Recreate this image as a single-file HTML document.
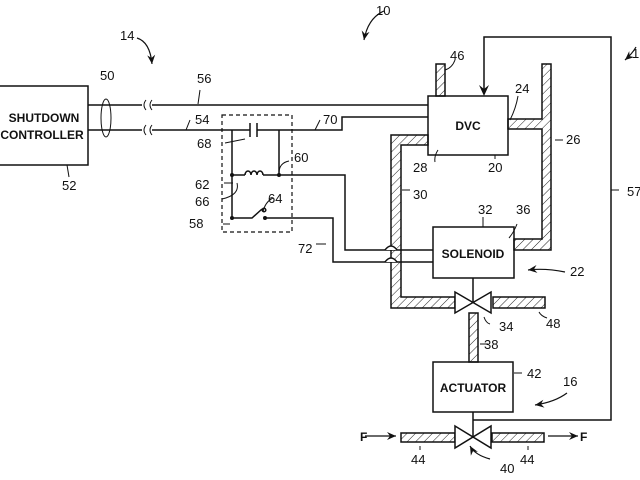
<!DOCTYPE html>
<html><head><style>body{margin:0;background:#fff}svg{display:block}text{font-family:"Liberation Sans",sans-serif;font-size:13px;fill:#111}.b{font-weight:bold;font-size:12px}</style></head><body>
<svg width="640" height="480" viewBox="0 0 640 480" xmlns="http://www.w3.org/2000/svg">
<defs><pattern id="h" width="6" height="6" patternUnits="userSpaceOnUse" patternTransform="rotate(45)"><line x1="0" y1="0" x2="0" y2="6" stroke="#222" stroke-width="1"/></pattern>
<marker id="a" markerWidth="10" markerHeight="10" refX="9" refY="5" orient="auto" markerUnits="userSpaceOnUse"><path d="M0,1 L9,5 L0,9 L3,5Z" fill="#111"/></marker></defs>
<g fill="none" stroke="#111" stroke-width="1.5">
<rect x="-2" y="86" width="90" height="79" fill="#fff"/>
<line x1="88" y1="105" x2="428" y2="105"/>
<path d="M88,130 H250 M257,130 H342 V117 H428"/>
<path d="M250,123 V137 M257,123 V137"/>
<rect x="142" y="100" width="10" height="36" fill="#fff" stroke="none"/>
<path d="M146,100 q-4,5 0,10 M152,100 q-4,5 0,10 M146,125 q-4,5 0,10 M152,125 q-4,5 0,10" stroke-width="1"/>
<ellipse cx="106" cy="118" rx="5" ry="19" stroke-width="1"/>
<rect x="222" y="115" width="70" height="117" stroke-dasharray="4,3" stroke-width="1.2"/>
<path d="M232,130 V218 M279,130 V175 M232,175 H245 M263,175 H279 H345 V250 H433"/>
<path d="M245,175 a3,4 0 0 1 6,0 a3,4 0 0 1 6,0 a3,4 0 0 1 6,0"/>
<path d="M232,218 H252 L262,209 M265,218 H333 V262 H433"/>
<circle cx="264" cy="210" r="1.8" fill="#fff"/>
<rect x="428" y="96" width="80" height="59" fill="#fff"/>
<rect x="433" y="227" width="81" height="51" fill="#fff"/>
<rect x="433" y="362" width="80" height="50" fill="#fff"/>
<path d="M484,90 V37 H611 V420 H473"/>
</g>
<path d="M479,85 L484,96 L489,85 L484,89Z" fill="#111"/>
<g fill="#111"><circle cx="232" cy="175" r="2"/><circle cx="279" cy="175" r="2"/><circle cx="232" cy="218" r="2"/><circle cx="265" cy="218" r="2"/></g>
<g fill="url(#h)" stroke="#111" stroke-width="1.5">
<rect x="436" y="64" width="9" height="32"/>
<path d="M542,64 H551 V250 H514 V239 H542 V129 H508 V119 H542Z"/>
<path d="M428,135 H391 V308 H455 V297 H401 V145 H428Z"/>
<rect x="493" y="297" width="52" height="11"/>
<rect x="469" y="313" width="9" height="49"/>
<rect x="401" y="433" width="54" height="9"/>
<rect x="492" y="433" width="52" height="9"/>
</g>
<g fill="#fff" stroke="#111" stroke-width="1.5">
<path d="M455,292 L491,313 V292 L455,313Z"/>
<path d="M455,426 L491,448 V426 L455,448Z"/>
<line x1="473" y1="278" x2="473" y2="302"/><line x1="473" y1="412" x2="473" y2="437"/>
<path d="M385,250 q6,-8 12,0 M385,262 q6,-8 12,0" stroke="#111"/>
</g>
<g fill="none" stroke="#111" stroke-width="1.2">
<path d="M365,436 H396" marker-end="url(#a)"/><path d="M548,436 H578" marker-end="url(#a)"/>
<path d="M384,11 Q368,18 364,40" marker-end="url(#a)"/>
<path d="M137,38 Q150,42 152,64" marker-end="url(#a)"/>
<path d="M565,272 Q545,268 528,270" marker-end="url(#a)"/>
<path d="M567,393 Q555,402 535,405" marker-end="url(#a)"/>
<path d="M490,459 Q475,455 470,446" marker-end="url(#a)"/>
<path d="M636,47 Q632,54 625,60" marker-end="url(#a)"/>
</g>
<g stroke="#111" stroke-width="1" fill="none">
<path d="M200,90 l-2,14 M190,120 l-4,10 M67,165 l2,12 M320,120 l-5,10 M245,139 l-20,4 M233,183 l-9,0 M237,183 Q240,195 222,199 M279,173 q0,-10 10,-12 M263,212 q2,-10 10,-14 M316,244 l10,0 M230,224 l-7,0"/>
<path d="M455,60 q-3,8 -10,10 M510,120 q6,-12 8,-24 M555,140 h8 M438,150 q-4,6 -3,12 M495,155 v4 M402,190 h8 M483,217 v10 M509,238 q5,-6 8,-14 M539,312 q2,4 8,6 M484,317 q2,6 6,7 M480,344 h8 M514,373 h8 M611,190 h8 M420,446 v4 M528,446 v4"/>
</g>
<text x="100" y="80">50</text><text x="197" y="83">56</text><text x="195" y="124">54</text><text x="120" y="40">14</text><text x="376" y="15">10</text>
<text x="62" y="190">52</text><text x="323" y="124">70</text><text x="197" y="148">68</text><text x="294" y="162">60</text>
<text x="195" y="189">62</text><text x="195" y="206">66</text><text x="268" y="203">64</text><text x="189" y="228">58</text><text x="298" y="253">72</text>
<text x="450" y="60">46</text><text x="515" y="93">24</text><text x="566" y="144">26</text><text x="413" y="172">28</text><text x="488" y="172">20</text>
<text x="413" y="199">30</text><text x="478" y="214">32</text><text x="516" y="214">36</text><text x="570" y="276">22</text>
<text x="499" y="331">34</text><text x="546" y="328">48</text><text x="484" y="349">38</text><text x="527" y="378">42</text><text x="563" y="386">16</text>
<text x="627" y="196">57</text><text x="411" y="464">44</text><text x="520" y="464">44</text><text x="500" y="473">40</text><text x="632" y="58">1</text>
<text x="360" y="441" class="b">F</text><text x="580" y="441" class="b">F</text>
<text class="b" x="44" y="122" text-anchor="middle">SHUTDOWN</text><text class="b" x="42" y="139" text-anchor="middle">CONTROLLER</text>
<text class="b" x="468" y="130" text-anchor="middle">DVC</text><text class="b" x="473" y="258" text-anchor="middle">SOLENOID</text><text class="b" x="473" y="392" text-anchor="middle">ACTUATOR</text>
</svg></body></html>
